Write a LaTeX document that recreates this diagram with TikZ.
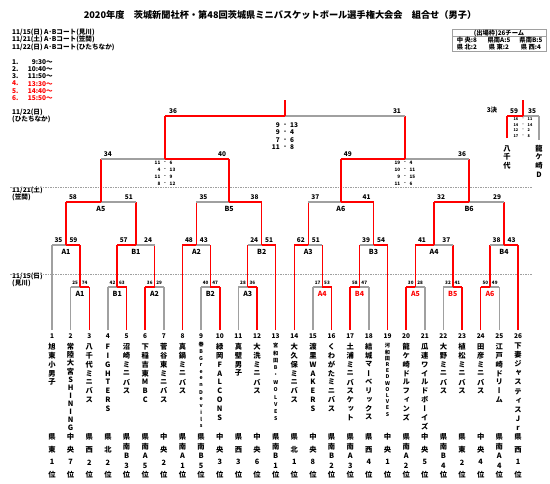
\documentclass[tikz,border=0pt]{standalone}
\usepackage{fontspec}
\setmainfont{Noto Sans CJK JP}
\newfontfamily\vtfont[RawFeature=+vert]{Noto Sans CJK JP}
\usetikzlibrary{calc}
\definecolor{rd}{RGB}{255,0,0}
\definecolor{gy}{RGB}{160,160,160}
\newcommand\fsz[1]{\fontsize{#1}{#1}\selectfont\bfseries}
\newcommand\nmfont{\vtfont\fsz{7.3}}
\newcommand\smfont{\vtfont\fsz{5.2}}
\tikzset{
 win/.style={draw=rd,line width=1.5pt,line cap=square},
 lose/.style={draw=gy,line width=1.5pt,line cap=square},
 sc/.style={inner sep=0pt,font=\fsz{6.5}},
 scs/.style={inner sep=0pt,font=\fsz{4.6}},
 lab/.style={inner sep=0pt,font=\fsz{7}},
 txt/.style={inner sep=0pt,anchor=west,font=\fsz{6.6}},
 num/.style={inner sep=0pt,font=\fsz{6.5}},
 vch/.style={inner sep=0pt},
 sep/.style={draw=gy,dash pattern=on 1.5pt off 1pt,line width=0.8pt},
}
% match: name, srcL, legL, srcR, legR, y, barL, barR
\newcommand\mt[8]{%
 \coordinate (#1-l) at (#2 |- 0,#6);
 \coordinate (#1-r) at (#4 |- 0,#6);
 \coordinate (#1-m) at ($(#1-l)!0.5!(#1-r)$);
 \draw[#3] (#2) -- (#1-l);
 \draw[#5] (#4) -- (#1-r);
 \draw[#7] (#1-l) -- (#1-m);
 \draw[#8] (#1-m) -- (#1-r);
}
% scores and label: name, sL, sR, dx, score style, label, label style
\newcommand\ms[7]{%
 \node[#5] at ($(#1-l)+(#4,-4.5)$) {#2};
 \node[#5] at ($(#1-r)+(-#4,-4.5)$) {#3};
 \node[lab,#7] at ($(#1-m)+(0,7)$) {#6};
}
% quarter scores: coord, dy0, step, style, offset, list
\newcommand\qs[6]{%
 \foreach \a/\b [count=\k from 0] in {#6} {
  \node[#4,anchor=east] at ($(#1)+(-#5,{#2+\k*#3})$) {\a};
  \node[#4] at ($(#1)+(0,{#2+\k*#3})$) {-};
  \node[#4,anchor=west] at ($(#1)+(#5,{#2+\k*#3})$) {\b};
 }}
\ExplSyntaxOn
\tl_new:N \l_tv_text_tl
\NewDocumentCommand\tvstack{mmmmm}
 {
  \tl_set:Nx \l_tv_text_tl {#5}
  \int_zero:N \l_tmpa_int
  \tl_map_inline:Nn \l_tv_text_tl
   {
    \node[vch,font=#4]~at~($(#1)+(0,{#2+\int_use:N\l_tmpa_int*#3})$)~{##1};
    \int_incr:N \l_tmpa_int
   }
 }
\NewDocumentCommand\tvspread{mmmmm}
 {
  \tl_set:Nx \l_tv_text_tl {#5}
  \int_set:Nn \l_tmpb_int { \tl_count:N \l_tv_text_tl - 1 }
  \int_zero:N \l_tmpa_int
  \tl_map_inline:Nn \l_tv_text_tl
   {
    \node[vch,font=#4]~at~($(#1)+(0,{#2+\int_use:N\l_tmpa_int*(#3-#2)/\int_use:N\l_tmpb_int})$)~{##1};
    \int_incr:N \l_tmpa_int
   }
 }
\ExplSyntaxOff
\begin{document}
\begin{tikzpicture}[x=1pt,y=-1pt]
\path[use as bounding box,fill=white] (0,0) rectangle (550,483);
% header
\node[inner sep=0pt,font=\fsz{9.2}] (title) at (280,15) {2020年度　茨城新聞社杯・第48回茨城県ミニバスケットボール選手権大会会　組合せ（男子）};
\node[txt] (i1) at (12,32) {11/15(日) A･Bコート(見川)};
\node[txt] (i2) at (12,39.5) {11/21(土) A･Bコート(笠間)};
\node[txt] (i3) at (12,47) {11/22(日) A･Bコート(ひたちなか)};
\foreach \n/\t/\c [count=\k from 0] in {1./9:30～/black,2./10:40～/black,3./11:50～/black,4./13:30～/rd,5./14:40～/rd,6./15:50～/rd}{
 \node[txt,text=\c] (tn\k) at (12,{62+\k*7.2}) {\n};
 \node[txt,text=\c,anchor=east] (tt\k) at (53,{62+\k*7.2}) {\t};
}
% entry box
\draw[gy,line width=0.8pt] (452,29) rectangle (546,51);
\draw[gy,line width=0.6pt] (452,36.5) -- (546,36.5);
\node[inner sep=0pt,font=\fsz{6.3}] (e0) at (499,33) {(出場枠)26チーム};
\node[inner sep=0pt,font=\fsz{6.3}] (e1) at (467,40.5) {中 央:8};
\node[inner sep=0pt,font=\fsz{6.3}] (e2) at (499,40.5) {県南A:5};
\node[inner sep=0pt,font=\fsz{6.3}] (e3) at (531,40.5) {県南B:5};
\node[inner sep=0pt,font=\fsz{6.3}] (e4) at (467,47.2) {県 北:2};
\node[inner sep=0pt,font=\fsz{6.3}] (e5) at (499,47.2) {県 東:2};
\node[inner sep=0pt,font=\fsz{6.3}] (e6) at (531,47.2) {県 西:4};
% dates
\node[txt] (d1) at (12,112) {11/22(日)};
\node[txt] (d1b) at (12,119.5) {(ひたちなか)};
\node[txt] (d2) at (12,190) {11/21(土)};
\node[txt] (d2b) at (12,197.5) {(笠間)};
\node[txt] (d3) at (12,276) {11/15(日)};
\node[txt] (d3b) at (12,283.5) {(見川)};
\draw[sep] (10,187) -- (532,187);
\draw[sep] (10,274) -- (532,274);
% teams
\foreach \i in {1,...,26} \coordinate (t\i) at ({52+(\i-1)*18.64},330);
% round 1
\mt{a1}{t2}{lose}{t3}{win}{287}{lose}{win}
\mt{b1}{t4}{lose}{t5}{win}{287}{lose}{win}
\mt{a2}{t6}{win}{t7}{lose}{287}{win}{lose}
\mt{b2}{t9}{lose}{t10}{win}{287}{lose}{win}
\mt{a3}{t11}{lose}{t12}{win}{287}{lose}{win}
\mt{a4}{t15}{lose}{t16}{win}{287}{lose}{win}
\mt{b4}{t17}{win}{t18}{lose}{287}{win}{lose}
\mt{a5}{t20}{win}{t21}{lose}{287}{win}{lose}
\mt{b5}{t22}{lose}{t23}{win}{287}{lose}{win}
\mt{a6}{t24}{win}{t25}{lose}{287}{win}{lose}
% round 2
\mt{c1}{t1}{lose}{a1-m}{win}{245}{lose}{win}
\mt{d1}{b1-m}{win}{a2-m}{win}{245}{win}{lose}
\mt{c2}{t8}{win}{b2-m}{win}{245}{win}{lose}
\mt{d2}{a3-m}{win}{t13}{win}{245}{lose}{win}
\mt{c3}{t14}{win}{a4-m}{win}{245}{win}{lose}
\mt{d3}{b4-m}{win}{t19}{win}{245}{lose}{win}
\mt{c4}{a5-m}{win}{b5-m}{win}{245}{win}{lose}
\mt{d4}{a6-m}{win}{t26}{win}{245}{lose}{win}
% round 3
\mt{e5}{c1-m}{win}{d1-m}{win}{202}{win}{lose}
\mt{f5}{c2-m}{win}{d2-m}{win}{202}{lose}{win}
\mt{e6}{c3-m}{win}{d3-m}{win}{202}{lose}{win}
\mt{f6}{c4-m}{win}{d4-m}{win}{202}{win}{lose}
% semis
\mt{s1}{e5-m}{win}{f5-m}{win}{159}{lose}{win}
\mt{s2}{e6-m}{win}{f6-m}{win}{159}{win}{lose}
% final
\mt{fin}{s1-m}{win}{s2-m}{win}{116}{win}{lose}
\coordinate (champ) at (fin-m |- 0,100);
\draw[win] (fin-m) -- (champ);
% third place
\coordinate (p3l) at (507,138);
\coordinate (p3r) at (539,140);
\mt{thr}{p3l}{win}{p3r}{lose}{116}{win}{lose}
\coordinate (thrtop) at (thr-m |- 0,100);
\draw[win] (thr-m) -- (thrtop);
% scores & labels
\ms{a1}{25}{74}{4.6}{scs}{A1}{}
\ms{b1}{42}{63}{4.6}{scs}{B1}{}
\ms{a2}{36}{29}{4.6}{scs}{A2}{}
\ms{b2}{40}{47}{4.6}{scs}{B2}{}
\ms{a3}{28}{36}{4.6}{scs}{A3}{}
\ms{a4}{17}{53}{4.6}{scs}{A4}{text=rd}
\ms{b4}{58}{47}{4.6}{scs}{B4}{text=rd}
\ms{a5}{30}{28}{4.6}{scs}{A5}{text=rd}
\ms{b5}{32}{41}{4.6}{scs}{B5}{text=rd}
\ms{a6}{50}{49}{4.6}{scs}{A6}{text=rd}
\ms{c1}{35}{59}{6.5}{sc}{A1}{}
\ms{d1}{57}{24}{6.5}{sc}{B1}{}
\ms{c2}{48}{43}{6.5}{sc}{A2}{}
\ms{d2}{24}{51}{6.5}{sc}{B2}{}
\ms{c3}{62}{51}{6.5}{sc}{A3}{}
\ms{d3}{39}{54}{6.5}{sc}{B3}{}
\ms{c4}{41}{37}{6.5}{sc}{A4}{}
\ms{d4}{38}{43}{6.5}{sc}{B4}{}
\ms{e5}{58}{51}{7}{sc}{A5}{}
\ms{f5}{35}{38}{7}{sc}{B5}{}
\ms{e6}{37}{41}{7}{sc}{A6}{}
\ms{f6}{32}{29}{7}{sc}{B6}{}
\ms{s1}{34}{40}{7}{sc}{}{}
\ms{s2}{49}{36}{7}{sc}{}{}
\ms{fin}{36}{31}{8}{sc}{}{}
\ms{thr}{59}{35}{7}{sc}{}{}
\node[sc] (k3) at (492,110.5) {3決};
\qs{fin-m}{9.3}{7.3}{sc}{5}{9/13,9/4,7/6,11/8}
\qs{s1-m}{3.7}{7}{scs}{4.5}{11/6,4/13,11/9,8/12}
\qs{s2-m}{3.7}{7}{scs}{4.5}{19/4,10/11,9/15,11/6}
\qs{thr-m}{3.3}{5.5}{inner sep=0pt,font=\fsz{3.8}}{4.5}{16/11,14/14,12/2,17/8}
\tvstack{p3l}{10.5}{8.5}{\nmfont}{八千代}
\tvstack{p3r}{8.5}{8.6}{\nmfont}{龍ケ崎D}
% team numbers
\foreach \i in {1,...,26} \node[num] (n\i) at ($(t\i)+(0,6.5)$) {\i};
% team names
\tvstack{t1}{17}{8.8}{\nmfont}{旭東小男子}
\tvstack{t2}{17}{8.1}{\nmfont}{常陸大宮SHINING}
\tvstack{t3}{17}{8.8}{\nmfont}{八千代ミニバス}
\tvstack{t4}{17}{8.8}{\nmfont}{FIGHTERS}
\tvstack{t5}{17}{8.8}{\nmfont}{沼崎ミニバス}
\tvstack{t6}{17}{8.8}{\nmfont}{下稲吉東MBC}
\tvstack{t7}{17}{8.8}{\nmfont}{菅谷東ミニバス}
\tvstack{t8}{17}{8.8}{\nmfont}{真鍋ミニバス}
\tvstack{t9}{14.5}{6.8}{\smfont}{春BGreenDevils}
\tvstack{t10}{17}{8.8}{\nmfont}{緑岡FALCONS}
\tvstack{t11}{17}{8.8}{\nmfont}{真壁男子}
\tvstack{t12}{17}{8.8}{\nmfont}{大洗ミニバス}
\tvstack{t13}{16}{7.3}{\smfont}{宮和田B・WOLVES}
\tvstack{t14}{17}{8.8}{\nmfont}{大久保ミニバス}
\tvstack{t15}{17}{8.8}{\nmfont}{渡里WAKERS}
\tvstack{t16}{17}{8.8}{\nmfont}{くわがたミニバス}
\tvstack{t17}{17}{8.8}{\nmfont}{土浦ミニバスケット}
\tvstack{t18}{17}{8.8}{\nmfont}{結城マーベリックス}
\tvstack{t19}{16}{6.2}{\smfont}{河和田REDWOLVES}
\tvstack{t20}{17}{8.8}{\nmfont}{龍ケ崎ドルフィンズ}
\tvstack{t21}{17}{8.8}{\nmfont}{瓜連ワイルドボーイズ}
\tvstack{t22}{17}{8.8}{\nmfont}{大野ミニバス}
\tvstack{t23}{17}{8.8}{\nmfont}{植松ミニバス}
\tvstack{t24}{17}{8.8}{\nmfont}{田彦ミニバス}
\tvstack{t25}{17}{8.8}{\nmfont}{江戸崎ドリーム}
\tvstack{t26}{15.5}{9.2}{\nmfont}{下妻ジャスティスJr}
% regions
\foreach \i/\r in {1/県東1位,2/中央7位,3/県西2位,4/県北2位,5/県南B3位,6/県南A5位,7/中央2位,8/県南A1位,9/県南B5位,10/中央3位,11/県西3位,12/中央6位,13/県南B1位,14/県北1位,15/中央8位,16/県南B2位,17/県南A3位,18/県西4位,19/中央1位,20/県南A2位,21/中央5位,22/県南B4位,23/県東2位,24/中央4位,25/県南A4位,26/県西1位}{
 \tvspread{t\i}{107}{145}{\nmfont}{\r}
}
\end{tikzpicture}
\end{document}
